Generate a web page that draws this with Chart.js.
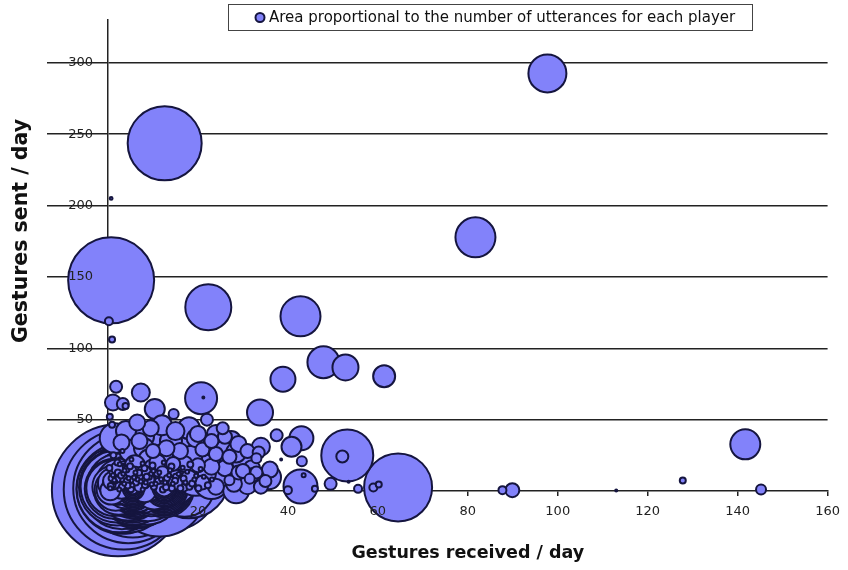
<!DOCTYPE html>
<html><head><meta charset="utf-8">
<script src="https://cdn.jsdelivr.net/npm/chart.js@4.4.1/dist/chart.umd.min.js"></script>
<style>html,body{margin:0;padding:0;background:#fff}#wrap{width:848px;height:570px}</style>
</head><body><div id="wrap"><canvas id="c" width="848" height="570"></canvas></div>
<script>
// Gestures received per day (x)
const received = [
 97.7,12.6,0.7,22.3,42.8,47.9,52.8,38.9,61.4,81.7,0.2,0.9,0.7,141.7,145.2,127.8,89.9,87.7,113,64.5,
 53.2,52.1,42.8,43.1,40.0,46.0,49.5,55.6,59.0,60.2,43,40.8,37.5,34,33.5,33,33.8,35.8,28.5,27,
 31.5,43.5,20.7,21.2,10.4,7.3,1.8,1.1,3.3,3.9,14.6,22,0.4,0.9,1.5,8,53.5,38.5,27.4,25.5,
 // large overlapping rings near origin
 2.2,3.5,4.5,12.6,11.5,5.5,3.0,6.5,2.0,8.5,3.2,1.5,9.5,4.8,17.0,2.4,14.5,6.0,1.2,19.5,
 3.8,7.5,23.0,2.6,11.0,0.8,16.0,5.0,9.0,1.5,26.0,3.0,13.0,20.0,0.5,
 14.0,18.0,4.0,5.2,6.1,3.4,7.2,4.6,8.3,2.8,5.9,9.6,3.7,6.8,10.4,4.1,7.9,2.5,5.4,8.8,
 2.6,4.9,3.1,6.3,1.9,5.7,7.4,3.6,8.9,2.3,4.4,6.9,1.4,9.8,5.1,3.3,7.8,2.7,11.2,4.9,
 6.4,1.7,8.6,3.9,10.3,5.6,2.1,7.1,12.5,4.3,9.2,1.1,6.6,3.2,11.6,5.3,8.1,2.4,13.4,4.7,
 7.6,0.9,10.8,6.2,3.8,9.4,14.8,12.1,1.6,16.3,
 // players with almost no exchanges (tightly nested)
 5.5,5.5,5.5,5.5,5.5,5.5,5.5,5.5,5.5,5.5,5.5,5.5,5.5,5.5,5.5,5.5,5.5,5.5,5.5,5.5,
 5.5,5.5,5.5,5.5,
 12.5,12.5,12.5,12.5,12.5,12.5,12.5,12.5,12.5,12.5,12.5,12.5,12.5,12.5,12.5,
 // mid-size cluster
 5,8,11,14,17,19.5,22.5,25,28.5,30,32,27.5,24.5,21.5,18.5,15,12,9,6,10,
 13,16,19,22,25,28,31,34,26,23,20,17,11,8,29,32,35,24,18,15,
 12,9.5,6.5,20,16,13,10,7,4,3,21,24,27,30,33,36,31,29,26,23,
 14.5,18,21,24,15,12,9,6,5,2,3,7,
 // small dense core
 0.5,1,1.6,2.1,2.5,3.1,3.6,4.2,4.6,5.1,5.4,6.2,6.6,7.1,7.7,8.2,8.4,9.1,9.6,10.2,
 10.6,11.1,11.4,12.2,12.7,13.1,13.6,14.2,14.4,15.1,1.1,2.2,3.4,0.8,4.1,6.1,8.1,10.1,2.1,5.2,
 1.2,3.2,16.1,17.2,18.1,19.2,20.1,21.3,22.2,23.1,
 0.6,1.4,2.9,3.7,4.4,5.8,6.9,7.3,8.6,9.7,10.9,11.8,12.9,13.8,14.9,15.7,16.8,17.6,18.7,19.6,
 0.3,2.6,4.9,7.7,9.9,12.4,14.1,16.6,18.3,20.6
];
// Gestures sent per day (y)
const sent = [
 292.6,243.6,147.6,128.7,122.4,90.2,86.6,78.3,80.4,177.7,118.9,106.2,205,32.7,1.1,7.4,0.6,0.6,0.3,2.5,
 24.9,24.2,3.2,20.8,0.6,1.5,5,1.5,2.5,4.5,37,31,39,31,27,23,55,9.6,0.5,7.5,
 8.5,11,65,65.5,57.5,69,73,62,61,59.5,54,50,52,46.5,37,38,6.5,22,35,44,
 0.5,1.0,2.0,14,1,2.5,1.5,3.0,2.5,1.5,4.0,1.5,5.0,6.0,3.0,0.8,8.0,7.5,3.0,12.0,
 1.2,5.0,7.0,6.0,9.0,1.0,18.0,3.5,2.0,4.5,12.0,2.2,4.0,26.0,0.5,
 6.0,9.0,1.5,3.0,2.0,4.5,1.0,5.5,3.5,2.5,6.5,2.0,0.8,4.0,3.0,7.0,5.0,1.8,8.0,4.2,
 1.2,2.4,0.6,1.9,3.2,0.9,3.6,2.7,1.3,4.4,0.4,5.1,2.1,3.3,4.6,1.7,2.3,5.8,2.8,3.4,
 0.7,0.9,6.2,5.2,1.1,7.1,2.9,4.1,5.5,1.5,7.3,5.6,2.6,8.1,4.2,6.3,0.5,9.4,7.6,10.2,
 8.4,7.1,9.6,11.3,12.6,12.1,10.5,13.2,13.8,4.7,
 1.5,1.5,1.5,1.5,1.5,1.5,1.5,1.5,1.5,1.5,1.5,1.5,1.5,1.5,1.5,1.5,1.5,1.5,1.5,1.5,
 1.5,1.5,1.5,1.5,
 2.5,2.5,2.5,2.5,2.5,2.5,2.5,2.5,2.5,2.5,2.5,2.5,2.5,2.5,2.5,
 28,30,33,35,34,37,33,30,27,21,16,19,23,21,24,23,25,22,18,16,
 14,12,14,12,10,5,4,3,16,17,18,19,20,13,13,11,7,40,44,42,
 46,44,48,40,28,30,28,35,42,34,29,26,24,14,13,15,28,33,38,35,
 19,9,6,3,6,10,8,10,14,16,10,3,
 2,4,6.5,8,1,3,5,7,9,1.2,4,6,8,10,1,4,6,10,12,3,
 5,7,13,1,6,9,11,2,5,10,11,13,12,9,15,13,16,14,20,22,
 25,28,2,6,3,8,2,10,4,8,
 3.5,7.6,10.8,14.3,3.9,9.4,12.7,6.6,9.9,4.8,12.2,8.3,2.6,14.6,7.1,11.9,8.8,13.4,5.2,10.7,
 16.2,18.8,17.4,19.3,17.8,19.9,17.2,16.3,18.6,15.4
];
// Utterances (bubble area)
const utterances = [
 361,1369,1849,529,400,256,169,156,121,400,16,9,2,225,25,9,49,16,1,1156,
 676,36,289,25,16,9,36,16,16,9,144,100,36,81,36,25,169,144,169,25,
 25,4,256,1,100,81,36,64,36,9,25,36,9,9,225,100,1,1,100,36,
 4356,3600,3025,2209,2209,2500,2025,1681,1444,1296,1089,900,841,729,900,625,625,484,441,484,
 361,324,324,256,289,225,256,196,169,144,196,121,144,169,100,
 2304,1600,1936,1764,1600,1521,1369,1225,1156,1024,961,784,676,576,529,400,324,256,196,144,
 1849,1681,1521,1444,1296,1225,1156,1089,1024,961,900,841,784,784,729,676,625,576,576,529,
 484,441,441,400,400,361,324,289,289,256,256,225,196,196,169,144,144,121,121,100,
 100,81,81,64,64,49,49,36,36,64,
 1600,1482,1369,1260,1156,1056,961,870,784,702,625,552,484,420,361,306,256,210,169,132,
 100,72,49,30,
 900,812,729,650,576,506,441,380,324,272,225,182,144,110,81,
 121,100,144,121,144,81,121,100,100,121,64,144,169,144,121,144,121,100,100,81,
 100,81,100,81,100,64,81,49,64,64,49,64,64,49,49,49,36,81,121,81,
 100,64,64,64,64,64,49,64,100,64,49,49,49,49,36,64,49,64,49,49,
 49,64,49,64,49,49,36,49,36,36,25,25,
 4,9,4,9,4,9,4,9,4,9,4,9,4,9,4,9,4,9,4,9,
 4,9,4,9,4,9,4,9,4,9,4,9,4,9,9,4,9,4,9,4,
 9,4,9,4,9,4,9,4,9,4,
 9,4,9,4,9,4,9,4,9,4,9,4,9,4,9,4,9,4,9,4,
 9,4,9,4,9,4,9,4,9,4
];
const xTickValues = [20,40,60,80,100,120,140,160];
const yTickValues = [50,100,150,200,250,300];
const legendText = 'Area proportional to the number of utterances for each player';
const xTitle = 'Gestures received / day';
const yTitle = 'Gestures sent / day';

const FILL = '#8282fa';
const EDGE = '#15153f';
const INK = '#222222';

// draw big bubbles first so smaller ones stay visible on top
const order = received.map((_, i) => i).sort((a, b) => utterances[b] - utterances[a]);
const points = order.map(i => ({x: received[i], y: sent[i], r: Math.sqrt(utterances[i])}));

const overlay = {
  id: 'overlay',
  afterDraw(chart) {
    const ctx = chart.ctx;
    ctx.save();
    // legend box
    ctx.fillStyle = '#fff';
    ctx.strokeStyle = '#444';
    ctx.lineWidth = 1;
    ctx.fillRect(228.5, 4.5, 524, 26);
    ctx.strokeRect(228.5, 4.5, 524, 26);
    ctx.beginPath();
    ctx.arc(260, 17.5, 4.5, 0, Math.PI * 2);
    ctx.fillStyle = FILL; ctx.fill();
    ctx.lineWidth = 2; ctx.strokeStyle = EDGE; ctx.stroke();
    ctx.fillStyle = '#111';
    ctx.font = '15px "DejaVu Sans", Verdana, sans-serif';
    ctx.textBaseline = 'middle';
    ctx.textAlign = 'left';
    ctx.fillText(legendText, 269, 18);
    // y title
    ctx.translate(22, 231);
    ctx.rotate(-Math.PI / 2);
    ctx.textAlign = 'center';
    ctx.font = 'bold 20.5px "DejaVu Sans", Verdana, sans-serif';
    ctx.fillStyle = '#111';
    ctx.fillText(yTitle, 0, 0);
    ctx.restore();
  }
};

new Chart(document.getElementById('c'), {
  type: 'bubble',
  data: {
    datasets: [{
      label: legendText,
      data: points,
      backgroundColor: FILL,
      borderColor: EDGE,
      borderWidth: 2,
      clip: false
    }]
  },
  options: {
    responsive: false,
    animation: false,
    devicePixelRatio: 1,
    layout: {autoPadding: false, padding: {top: 20, right: 15, left: 0, bottom: 0}},
    plugins: {legend: {display: false}, tooltip: {enabled: false}},
    events: [],
    scales: {
      x: {
        type: 'linear', min: 0, max: 160,
        afterBuildTicks: s => { s.ticks = xTickValues.map(v => ({value: v})); },
        afterFit: s => { s.height = 79; },
        grid: {display: true, drawOnChartArea: false, drawTicks: true, tickLength: 5, color: INK, lineWidth: 1.5},
        border: {display: true, color: INK, width: 1.5},
        ticks: {z: 1, padding: 8, color: '#222', font: {family: '"DejaVu Sans", Verdana, sans-serif', size: 13}, maxRotation: 0, autoSkip: false},
        title: {display: true, text: xTitle, color: '#111', padding: {top: 0, bottom: 6},
                font: {family: '"DejaVu Sans", Verdana, sans-serif', size: 17.5, weight: 'bold'}}
      },
      y: {
        type: 'linear', min: 0, max: 330,
        afterBuildTicks: s => { s.ticks = yTickValues.map(v => ({value: v})); },
        afterFit: s => { s.width = 108; },
        grid: {display: true, drawOnChartArea: true, drawTicks: true, tickLength: 61, color: INK, lineWidth: 1.5},
        border: {display: true, color: INK, width: 1.5},
        ticks: {z: 1, padding: -46, color: '#222', font: {family: '"DejaVu Sans", Verdana, sans-serif', size: 13}, autoSkip: false},
        title: {display: false}
      }
    }
  },
  plugins: [overlay]
});
</script></body></html>
